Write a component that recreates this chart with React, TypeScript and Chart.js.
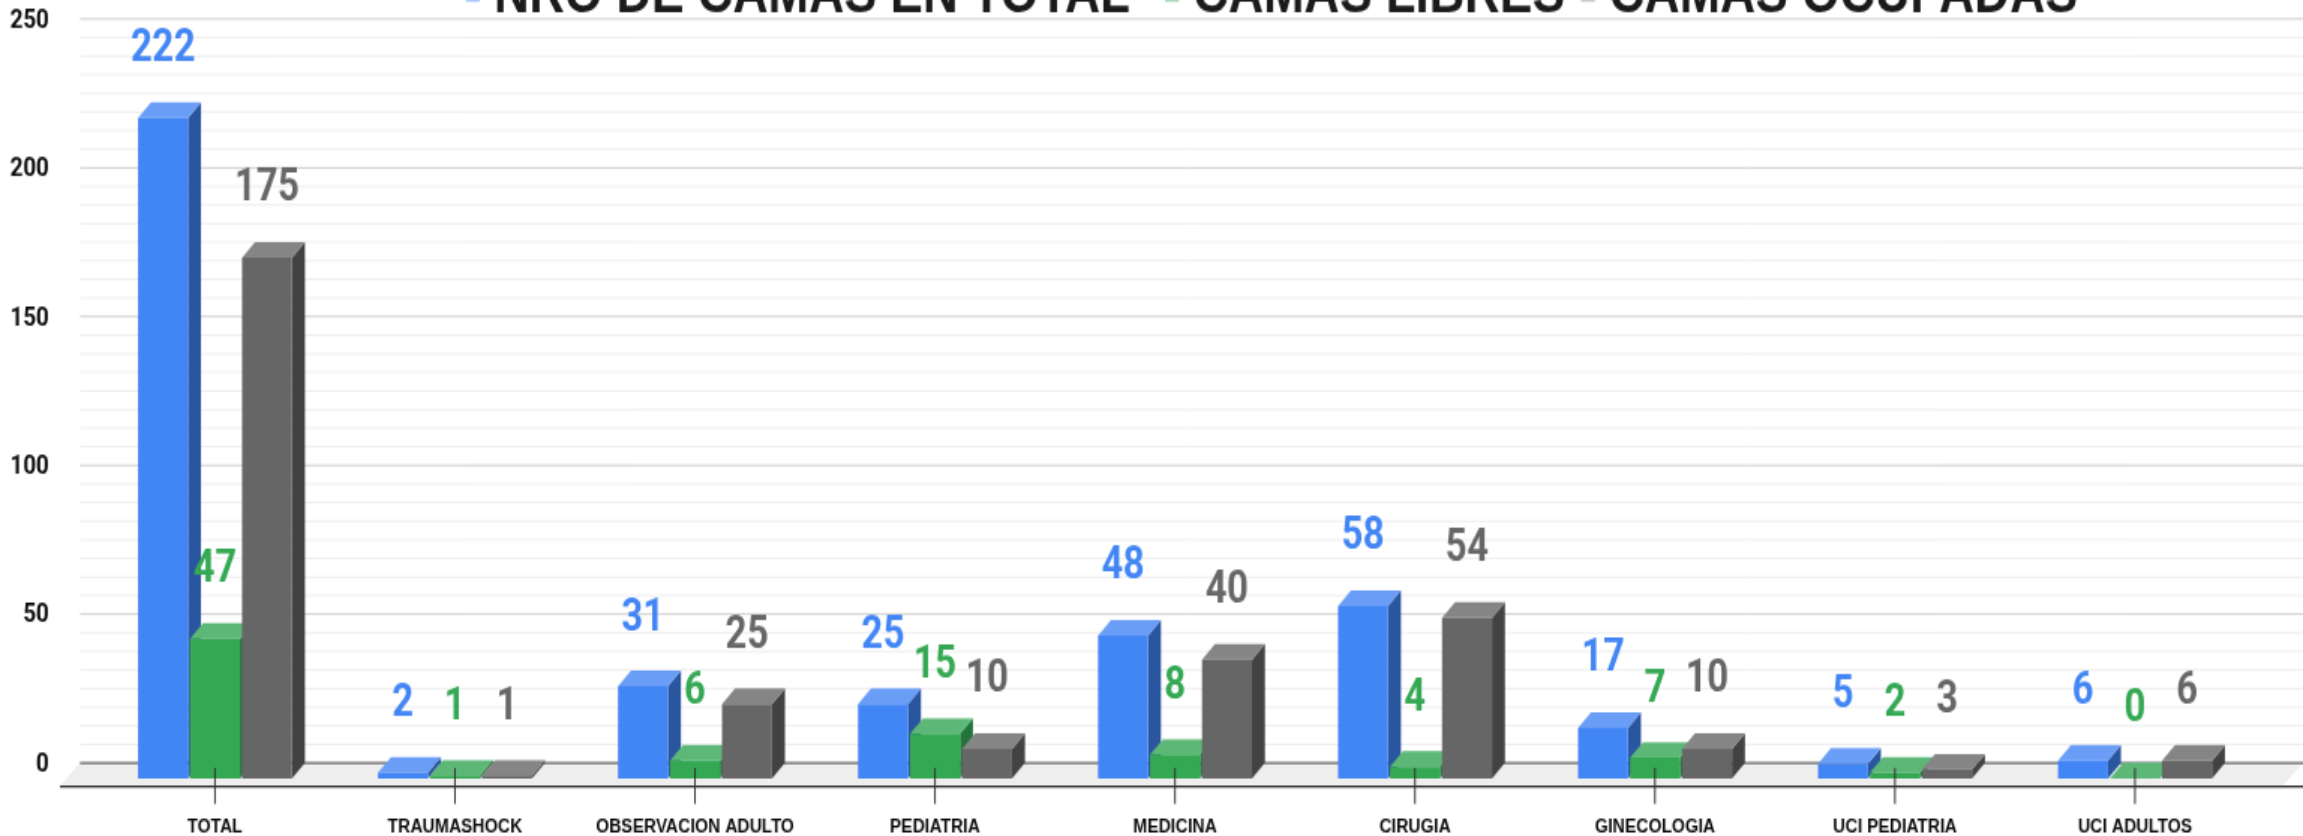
import React, { useEffect, useRef } from "react";
import { Chart, registerables } from "chart.js";

Chart.register(...registerables);

const categories = ["TOTAL", "TRAUMASHOCK", "OBSERVACION ADULTO", "PEDIATRIA", "MEDICINA", "CIRUGIA", "GINECOLOGIA", "UCI PEDIATRIA", "UCI ADULTOS"];
const totalBeds = [222, 2, 31, 25, 48, 58, 17, 5, 6];
const freeBeds = [47, 1, 6, 15, 8, 4, 7, 2, 0];
const occupiedBeds = [175, 1, 25, 10, 40, 54, 10, 3, 6];
const seriesNames = ["NRO DE CAMAS EN TOTAL", "CAMAS LIBRES", "CAMAS OCUPADAS"];

const front = ["#4285f4", "#34a853", "#666666"];
const side = ["#2a56a0", "#22743a", "#424242"];
const top = ["#699df6", "#5db776", "#858585"];
const swatch = ["#a9c8fb", "#aedcba", "#cccccc"];
const legendStarts = [494, 1193, 1609];

const W = 1536, H = 480;
const sx = 2303 / W, sy = 836 / H;
const X = (v: number) => v / sx;
const Y = (v: number) => v / sy;

const poly = (ctx: any, pts: number[][], fill: string) => {
  ctx.beginPath();
  pts.forEach((p, i) => (i ? ctx.lineTo(p[0], p[1]) : ctx.moveTo(p[0], p[1])));
  ctx.closePath();
  ctx.fillStyle = fill;
  ctx.fill();
};

const threeD = {
  id: "threeD",
  beforeDatasetsDraw(chart: any) {
    const ctx = chart.ctx;
    const y = chart.scales.y;
    ctx.save();
    ctx.lineWidth = 1;
    y.ticks.forEach((t: any) => {
      if (t.value === 0) return;
      const major = t.value % 50 === 0;
      ctx.strokeStyle = major ? "#cfcfcf" : "#eeeeee";
      const p = y.getPixelForValue(t.value);
      ctx.beginPath();
      ctx.moveTo(X(80), p);
      ctx.lineTo(X(2303), p);
      ctx.stroke();
    });
    const zero = y.getPixelForValue(0);
    poly(ctx, [[X(80), zero], [X(2303), zero], [X(2283), Y(786)], [X(60), Y(786)]], "#eeeeee");
    ctx.strokeStyle = "#444444";
    ctx.beginPath();
    ctx.moveTo(X(80), zero);
    ctx.lineTo(X(2303), zero);
    ctx.stroke();
    ctx.strokeStyle = "#333333";
    ctx.lineWidth = 1.2;
    ctx.beginPath();
    ctx.moveTo(X(60), Y(786.5));
    ctx.lineTo(X(2303), Y(786.5));
    ctx.stroke();

    // bars are painted first to last so that each one overlaps the side of the previous one
    const dx = X(13), dy = Y(15.5);
    ctx.translate(0, dy);
    chart.data.datasets.forEach((_: any, d: number) => {
      chart.getDatasetMeta(d).data.forEach((el: any) => {
        const half = el.width / 2;
        const l = el.x - half, r = el.x + half;
        poly(ctx, [[r, el.y], [r + dx, el.y - dy], [r + dx, el.base - dy], [r, el.base]], side[d]);
        poly(ctx, [[l, el.y], [r, el.y], [r + dx, el.y - dy], [l + dx, el.y - dy]], top[d]);
        el.draw(ctx);
      });
    });
    ctx.restore();
  },
  beforeDatasetDraw() {
    return false;
  },
  afterDatasetsDraw(chart: any) {
    const ctx = chart.ctx;
    ctx.save();
    ctx.strokeStyle = "#333333";
    ctx.lineWidth = 1;
    const xs = chart.scales.x;
    xs.ticks.forEach((_: any, i: number) => {
      const p = xs.getPixelForTick(i);
      ctx.beginPath();
      ctx.moveTo(p, Y(768));
      ctx.lineTo(p, Y(804));
      ctx.stroke();
    });
    ctx.font = "bold 25px Roboto";
    ctx.textAlign = "center";
    ctx.textBaseline = "middle";
    chart.data.datasets.forEach((ds: any, d: number) => {
      ctx.fillStyle = front[d];
      chart.getDatasetMeta(d).data.forEach((el: any, i: number) => {
        ctx.fillText(String(ds.data[i]), el.x, el.y - Y(52));
      });
    });
    // legend, clipped by the top of the page as in the reference
    ctx.font = 'bold 32.6px "Liberation Sans"';
    ctx.textAlign = "left";
    ctx.textBaseline = "alphabetic";
    chart.data.datasets.forEach((ds: any, d: number) => {
      const start = X(legendStarts[d]);
      ctx.fillStyle = swatch[d];
      ctx.fillRect(start - X(28), 0, X(14), Y(2));
      ctx.fillStyle = "#1a1a1a";
      ctx.fillText(ds.label, start, Y(12));
    });
    ctx.restore();
  },
};

export default function App() {
  const ref = useRef<HTMLCanvasElement>(null);
  useEffect(() => {
    const values = [totalBeds, freeBeds, occupiedBeds];
    const chart = new Chart(ref.current as any, {
      type: "bar",
      data: {
        labels: categories,
        datasets: values.map((data, i) => ({
          label: seriesNames[i],
          data,
          backgroundColor: front[i],
          clip: false,
          categoryPercentage: 0.65,
          barPercentage: 0.96,
        })) as any,
      },
      options: {
        animation: false,
        responsive: false,
        devicePixelRatio: 1,
        layout: { padding: { top: Y(19), right: X(48), left: 0, bottom: 0 } },
        plugins: { legend: { display: false }, title: { display: false }, tooltip: { enabled: false } },
        scales: {
          x: {
            type: "category",
            offset: true,
            border: { display: false },
            grid: { display: false, drawTicks: false },
            ticks: {
              autoSkip: false,
              maxRotation: 0,
              minRotation: 0,
              padding: Y(52),
              color: "#0a0a0a",
              font: { family: '"Liberation Sans"', weight: "bold", size: 11.3 },
            },
            afterFit: (s: any) => { s.height = Y(836 - 763); s.paddingLeft = 0; s.paddingRight = 0; },
          },
          y: {
            min: 0,
            max: 250,
            border: { display: false },
            grid: { display: false, drawTicks: false },
            ticks: {
              stepSize: 6.25,
              autoSkip: false,
              padding: X(95 - 49),
              labelOffset: 1,
              color: "#0a0a0a",
              font: { family: "Roboto", weight: "bold", size: 15 },
              callback: (v: any) => (v % 50 === 0 ? String(v) : ""),
            },
            afterFit: (s: any) => { s.width = X(95); s.paddingTop = 0; s.paddingBottom = 0; },
          },
        },
      },
      plugins: [threeD],
    } as any);
    return () => chart.destroy();
  }, []);
  return (
    <canvas
      ref={ref}
      width={W}
      height={H}
      style={{ position: "fixed", left: 0, top: 0, width: 2303, height: 836, background: "#fff" }}
    />
  );
}
